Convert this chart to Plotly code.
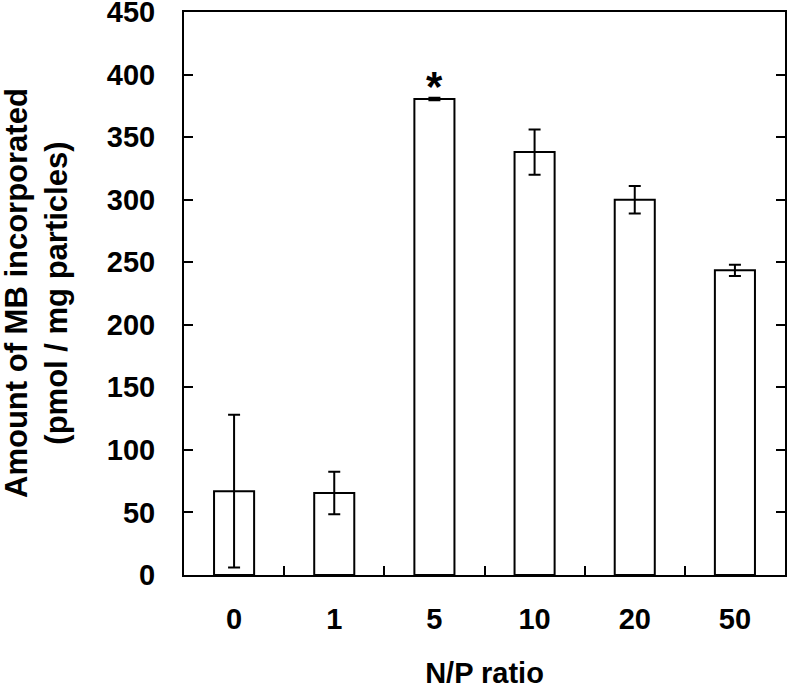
import plotly.graph_objects as go

categories = ["0", "1", "5", "10", "20", "50"]
values = [67, 65.5, 380.5, 338, 300, 243.5]
errors = [61, 17, 1, 18, 11, 4.5]
y_ticks = [0, 50, 100, 150, 200, 250, 300, 350, 400, 450]
star_category = "5"
y_title = "Amount of MB incorporated<br>(pmol / mg particles)"
x_title = "N/P ratio"

FONT = dict(family="Arial, Liberation Sans, sans-serif", size=29, color="black", weight="bold")
TITLE_FONT = dict(FONT, size=31)

fig = go.Figure()
fig.add_trace(go.Bar(
    x=categories, y=values, width=0.4,
    marker=dict(color="white", line=dict(color="black", width=2)),
    error_y=dict(type="data", array=errors, visible=True, color="black", thickness=2, width=6),
    showlegend=False,
))

si = categories.index(star_category)
fig.add_annotation(x=si, y=values[si] + errors[si], text="*", showarrow=False,
                   yanchor="bottom", yshift=-14, font=dict(FONT, size=42))

fig.add_annotation(xref="paper", yref="paper", x=0, y=0.5, xshift=-187,
                   xanchor="left", yanchor="middle", textangle=-90,
                   text=y_title, showarrow=False, font=TITLE_FONT)

fig.update_layout(
    width=787, height=689,
    margin=dict(l=184, r=2, t=12, b=114),
    plot_bgcolor="white", paper_bgcolor="white",
    font=FONT,
    xaxis=dict(
        type="category", range=[-0.5, 5.5], automargin=False,
        showline=True, linecolor="black", linewidth=2, mirror=True,
        ticks="inside", ticklen=9, tickwidth=2, tickcolor="black",
        tickson="boundaries", ticklabelstandoff=17, ticklabeloverflow="allow",
        showgrid=False, zeroline=False,
        title=dict(text=x_title, font=FONT, standoff=38),
        tickfont=FONT,
    ),
    yaxis=dict(
        range=[0, 450], tickvals=y_ticks, automargin=False,
        showline=True, linecolor="black", linewidth=2, mirror="ticks",
        ticks="inside", ticklen=9, tickwidth=2, tickcolor="black",
        ticklabelstandoff=21, ticklabeloverflow="allow",
        showgrid=False, zeroline=False,
        tickfont=FONT,
    ),
    bargap=0.6,
)

fig.write_html("out.html", config={"displayModeBar": False},
               post_script="document.body.style.margin='0';")
